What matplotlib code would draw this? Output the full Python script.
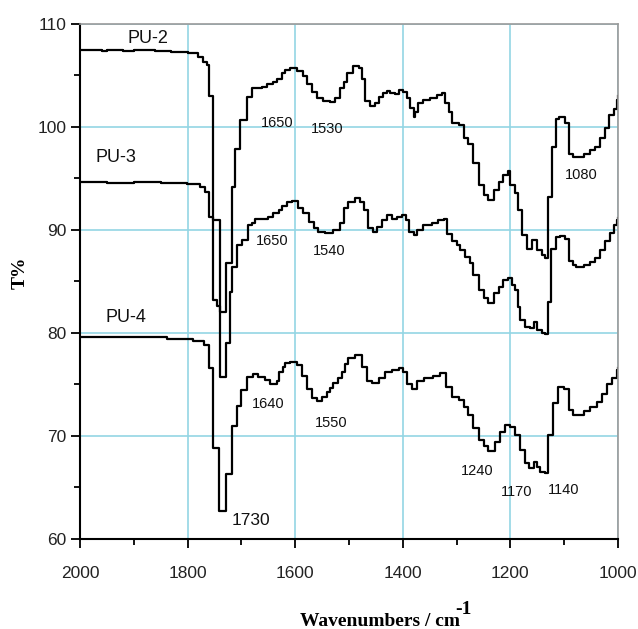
import matplotlib
matplotlib.use('Agg')
import matplotlib.pyplot as plt
from matplotlib.ticker import MultipleLocator


# wavenumber (cm-1) / transmittance (%) pairs, listed left to right
pu2_wn = [2000, 1960, 1950, 1920, 1900, 1860, 1830, 1800, 1780, 1771, 1764, 1760,
          1752, 1746, 1740, 1729, 1718, 1712, 1702, 1690, 1681, 1662, 1653, 1641,
          1634, 1625, 1619, 1609, 1597, 1585, 1578, 1569, 1560, 1548, 1535, 1526,
          1516, 1510, 1504, 1492, 1482, 1476, 1470, 1461, 1451, 1445, 1436, 1430,
          1424, 1414, 1408, 1399, 1392, 1386, 1380, 1377, 1371, 1362, 1349, 1337,
          1327, 1321, 1315, 1309, 1296, 1287, 1278, 1269, 1259, 1250, 1241, 1231,
          1222, 1213, 1204, 1200, 1191, 1185, 1179, 1169, 1160, 1151, 1141, 1135,
          1131, 1123, 1116, 1110, 1098, 1092, 1083, 1064, 1052, 1042, 1033, 1024,
          1017, 1008, 1002, 1000]
pu2_t = [107.5, 107.4, 107.5, 107.4, 107.5, 107.4, 107.3, 107.2, 106.8, 106.3, 106.0, 103.0,
         83.2, 82.6, 82.0, 86.8, 94.2, 97.9, 100.7, 102.9, 103.8, 103.9, 104.2, 104.4,
         104.7, 105.2, 105.5, 105.7, 105.4, 104.9, 104.2, 103.4, 102.8, 102.5, 102.4, 102.8,
         103.8, 104.4, 105.2, 105.9, 105.7, 104.7, 102.5, 102.0, 102.3, 102.9, 103.3, 103.5,
         103.3, 103.2, 103.6, 103.4, 102.8, 101.8, 101.0, 101.5, 102.3, 102.6, 102.8, 103.1,
         103.3, 102.3, 101.5, 100.4, 100.2, 98.9, 98.3, 96.5, 94.4, 93.4, 92.9, 93.9,
         94.7, 95.3, 95.7, 94.4, 93.6, 91.9, 89.5, 88.2, 89.0, 88.1, 87.6, 87.3,
         93.2, 98.1, 100.8, 101.0, 100.4, 97.4, 97.1, 97.4, 97.8, 98.1, 98.9, 99.9,
         101.2, 101.7, 102.6, 103.0]

pu3_wn = [2000, 1950, 1900, 1850, 1802, 1777, 1768, 1760, 1752, 1740, 1729, 1721,
          1717, 1709, 1699, 1688, 1681, 1675, 1650, 1641, 1631, 1625, 1616, 1606,
          1594, 1585, 1575, 1566, 1557, 1544, 1529, 1516, 1510, 1501, 1489, 1480,
          1473, 1464, 1455, 1448, 1439, 1430, 1420, 1411, 1402, 1395, 1389, 1380,
          1374, 1362, 1346, 1334, 1324, 1318, 1309, 1300, 1293, 1284, 1275, 1269,
          1259, 1250, 1241, 1231, 1222, 1213, 1204, 1197, 1191, 1185, 1182, 1172,
          1163, 1157, 1151, 1141, 1135, 1131, 1124, 1115, 1107, 1098, 1092, 1083,
          1079, 1064, 1052, 1042, 1033, 1024, 1014, 1008, 1002, 1000]
pu3_t = [94.7, 94.6, 94.7, 94.6, 94.5, 94.2, 93.7, 91.3, 91.0, 75.7, 79.0, 84.0,
         86.4, 88.5, 89.0, 90.5, 90.7, 91.1, 91.3, 91.6, 91.9, 92.3, 92.7, 92.85,
         92.1, 91.6, 90.8, 90.2, 89.8, 89.7, 90.0, 90.65, 92.1, 92.75, 93.1, 92.75,
         91.9, 90.2, 89.8, 90.3, 91.0, 91.5, 91.1, 91.3, 91.5, 91.0, 89.8, 89.5,
         90.0, 90.5, 90.7, 91.0, 91.05, 89.6, 88.9, 88.5, 88.1, 87.4, 86.8, 85.6,
         84.2, 83.4, 82.9, 83.9, 84.5, 85.1, 85.3, 84.7, 84.2, 82.5, 81.3, 80.6,
         80.5, 81.1, 80.3, 80.0, 79.9, 83.0, 88.2, 89.3, 89.45, 89.1, 87.0, 86.6,
         86.4, 86.6, 86.9, 87.3, 88.1, 88.9, 89.7, 90.5, 91.0, 91.2]

pu4_wn = [2000, 1900, 1838, 1790, 1770, 1760, 1752, 1741, 1729, 1718, 1709, 1700,
          1689, 1678, 1669, 1656, 1647, 1634, 1631, 1622, 1619, 1609, 1597, 1588,
          1578, 1569, 1560, 1550, 1541, 1535, 1530, 1520, 1513, 1507, 1501, 1489,
          1476, 1467, 1457, 1445, 1433, 1420, 1408, 1399, 1392, 1383, 1374, 1361,
          1343, 1330, 1319, 1309, 1296, 1287, 1278, 1269, 1259, 1250, 1241, 1228,
          1219, 1210, 1200, 1191, 1182, 1172, 1166, 1157, 1151, 1145, 1135, 1131,
          1120, 1111, 1101, 1092, 1083, 1064, 1052, 1039, 1030, 1020, 1011, 1002,
          1000]
pu4_t = [79.6, 79.6, 79.4, 79.2, 78.8, 76.6, 68.8, 62.7, 66.3, 71.0, 72.9, 74.5,
         75.7, 76.0, 75.7, 75.4, 75.0, 75.3, 76.2, 76.7, 77.1, 77.2, 76.9, 75.8,
         74.6, 73.7, 73.4, 73.8, 74.3, 74.7, 75.1, 75.6, 76.2, 77.0, 77.6, 77.9,
         76.7, 75.3, 75.1, 75.6, 76.2, 76.4, 76.6, 76.2, 75.0, 74.6, 75.3, 75.6,
         75.8, 76.1, 74.8, 73.8, 73.5, 72.8, 72.0, 70.8, 69.6, 69.0, 68.5, 69.4,
         70.4, 71.1, 70.9, 70.1, 68.6, 67.4, 66.9, 67.5, 67.0, 66.5, 66.4, 70.1,
         73.2, 74.8, 74.6, 72.5, 72.0, 72.4, 72.8, 73.3, 74.1, 75.0, 75.6, 76.4,
         76.6]

sample_names = ['PU-2', 'PU-3', 'PU-4']
band_labels = ['1650', '1530', '1080', '1650', '1540', '1640', '1550',
               '1730', '1240', '1170', '1140']

GRID_BLUE = '#93d5e4'


def style_axes(ax):
    ax.set_xlim(2000, 1000)
    ax.set_ylim(60, 110)
    ax.xaxis.set_major_locator(MultipleLocator(200))
    ax.xaxis.set_minor_locator(MultipleLocator(100))
    ax.yaxis.set_major_locator(MultipleLocator(10))
    ax.yaxis.set_minor_locator(MultipleLocator(5))
    ax.grid(True, which='major', color=GRID_BLUE, lw=1.2)
    ax.set_axisbelow(True)
    for side in ['top', 'right']:
        ax.spines[side].set_color('#9a9a9a')
        ax.spines[side].set_linewidth(1.2)
    for side in ['left', 'bottom']:
        ax.spines[side].set_color('black')
        ax.spines[side].set_linewidth(1.5)
    ax.tick_params(which='both', direction='out', width=1.3, colors='black',
                   labelcolor='#222222', labelsize=12.5)
    ax.tick_params(which='major', length=6.5)
    ax.tick_params(which='minor', length=4)
    ax.tick_params(axis='x', pad=13)
    ax.tick_params(axis='y', pad=3)
    for lab in ax.get_xticklabels() + ax.get_yticklabels():
        lab.set_fontfamily('Liberation Sans')


fig = plt.figure(figsize=(6.38, 6.29), dpi=100)
ax = fig.add_axes([0.1254, 0.1431, 0.8433, 0.8188])

for wn, t in [(pu2_wn, pu2_t), (pu3_wn, pu3_t), (pu4_wn, pu4_t)]:
    ax.plot(wn, t, drawstyle='steps-post', color='black', lw=1.6)

style_axes(ax)

# sample names
name_pos = [(1874, 108.6), (1934, 97.0), (1914, 81.5)]
for name, (x, y) in zip(sample_names, name_pos):
    ax.text(x, y, name, ha='center', va='center', fontsize=13,
            fontfamily='Liberation Sans', color='#111111')

# band assignments
band_pos = [(1634, 100.4), (1541, 99.8), (1068, 95.3), (1643, 88.9), (1536, 88.0),
            (1651, 73.1), (1533, 71.3), (1682, 61.8), (1262, 66.6), (1189, 64.6),
            (1101, 64.8)]
for lab, (x, y) in zip(band_labels, band_pos):
    size = 12.5 if lab == '1730' else 10.5
    ax.text(x, y, lab, ha='center', va='center', fontsize=size,
            fontfamily='Liberation Sans', color='#111111')

fig.text(20 / 638, 1 - 273 / 629, 'T%', rotation=90, ha='center', va='center',
         fontsize=14, fontweight='bold', fontfamily='Liberation Serif')
fig.text(300 / 638, 3 / 629, 'Wavenumbers / cm', ha='left', va='baseline',
         fontsize=14, fontweight='bold', fontfamily='Liberation Serif')
fig.text(455 / 638, 1 - 614 / 629, '-1', ha='left', va='baseline',
         fontsize=14, fontweight='bold', fontfamily='Liberation Serif')

fig.savefig('out.png', dpi=100)
